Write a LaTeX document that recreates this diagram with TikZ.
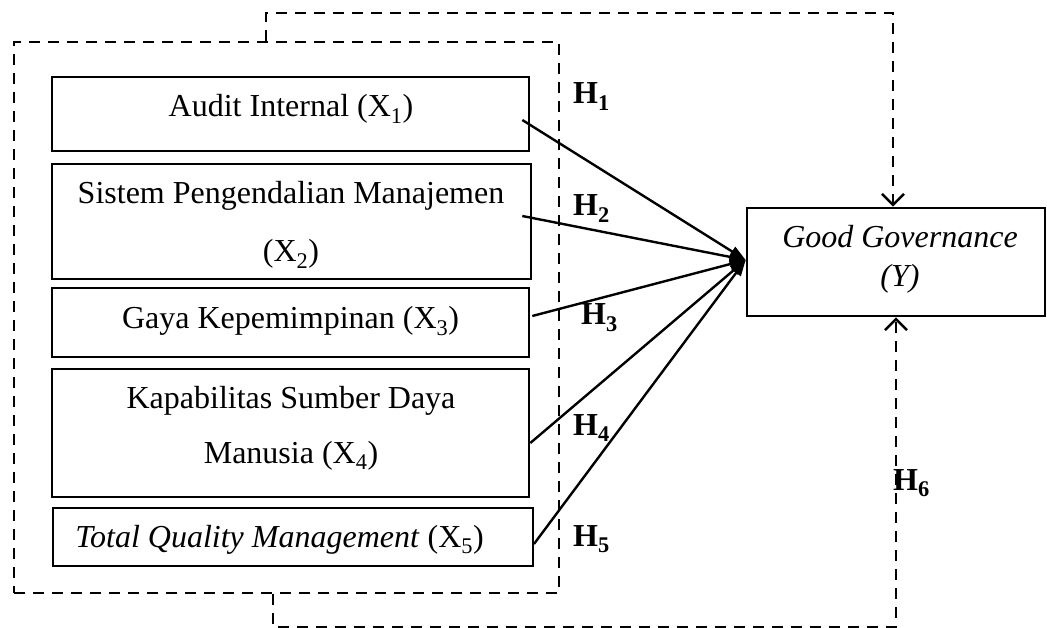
\documentclass[tikz,border=0pt]{standalone}
\usepackage{fontspec}
\setmainfont{Liberation Serif}
\usetikzlibrary{arrows.meta}
\tikzset{
  vbox/.style={draw, line width=2.6pt, inner sep=0pt, anchor=center},
  txt/.style={anchor=base, inner sep=0pt, font=\fontsize{32}{38}\selectfont},
  hlab/.style={anchor=base west, inner sep=0pt, font=\fontsize{32}{38}\selectfont\bfseries},
  dline/.style={line width=2.5pt, dash pattern=on 11pt off 8pt},
  solidarrow/.style={line width=2.4pt, -{Triangle[length=16pt,width=11pt]}},
  dasharrow/.style={dline, -{Straight Barb[length=11pt,width=22pt,line width=2.5pt]}}
}
\begin{document}
\begin{tikzpicture}[x=1pt,y=-1pt]
\useasboundingbox (0,0) rectangle (1047,628);
% group frame
\node[draw, dline, inner sep=0pt, minimum width=545pt, minimum height=551pt] (grp) at (286.5,317.5) {};
% boxes
\node[vbox, minimum width=477pt, minimum height=74pt] (b1) at (290.5,114) {};
\node[vbox, minimum width=479pt, minimum height=115pt] (b2) at (291.5,221.5) {};
\node[vbox, minimum width=477pt, minimum height=69pt] (b3) at (290.5,322.5) {};
\node[vbox, minimum width=477pt, minimum height=128pt] (b4) at (290.5,433) {};
\node[vbox, line width=1.9pt, minimum width=480pt, minimum height=58pt] (b5) at (293,537) {};
\node[vbox, minimum width=298pt, minimum height=108pt] (Y) at (896,262) {};
% texts
\node[txt] (t1) at (291,117) {Audit Internal (X\textsubscript{1})};
\node[txt] (t2a) at (291,204) {Sistem Pengendalian Manajemen};
\node[txt] (t2b) at (291,262) {(X\textsubscript{2})};
\node[txt] (t3) at (290.5,329) {Gaya Kepemimpinan (X\textsubscript{3})};
\node[txt] (t4a) at (291,408) {Kapabilitas Sumber Daya};
\node[txt] (t4b) at (291,463) {Manusia (X\textsubscript{4})};
\node[txt] (t5) at (279.5,547) {\textit{Total Quality Management} (X\textsubscript{5})};
\node[txt] (ty1) at (900,248) {\textit{Good Governance}};
\node[txt] (ty2) at (900,287) {\textit{(Y)}};
% hypothesis labels
\node[hlab] (h1) at (573,104) {H\textsubscript{1}};
\node[hlab] (h2) at (573,216) {H\textsubscript{2}};
\node[hlab] (h3) at (581,325) {H\textsubscript{3}};
\node[hlab] (h4) at (573,435) {H\textsubscript{4}};
\node[hlab] (h5) at (573,546) {H\textsubscript{5}};
\node[hlab] (h6) at (893,490) {H\textsubscript{6}};
% arrow start points
\coordinate (s1) at ([xshift=-8pt,yshift=-6pt]b1.east);
\coordinate (s2) at ([xshift=-10pt,yshift=5.5pt]b2.east);
\coordinate (s3) at ([xshift=2pt,yshift=6.5pt]b3.east);
\coordinate (s4) at ([yshift=-10pt]b4.east);
\coordinate (s5) at ([yshift=-7pt]b5.east);
\coordinate (yin) at ([yshift=2pt]Y.west);
\foreach \s in {s1,s2,s3,s4,s5} \draw[solidarrow] (\s) -- (yin);
% dashed connectors
\coordinate (tl) at (266,13);
\coordinate (tr) at (893,13);
\draw[dasharrow] (grp.north -| tl) -- (tl) -- (tr) -- (tr |- Y.north);
\coordinate (bl) at (273,627);
\coordinate (br) at (896,627);
\draw[dasharrow] (grp.south -| bl) -- (bl) -- (br) -- (br |- Y.south);
\end{tikzpicture}
\end{document}
